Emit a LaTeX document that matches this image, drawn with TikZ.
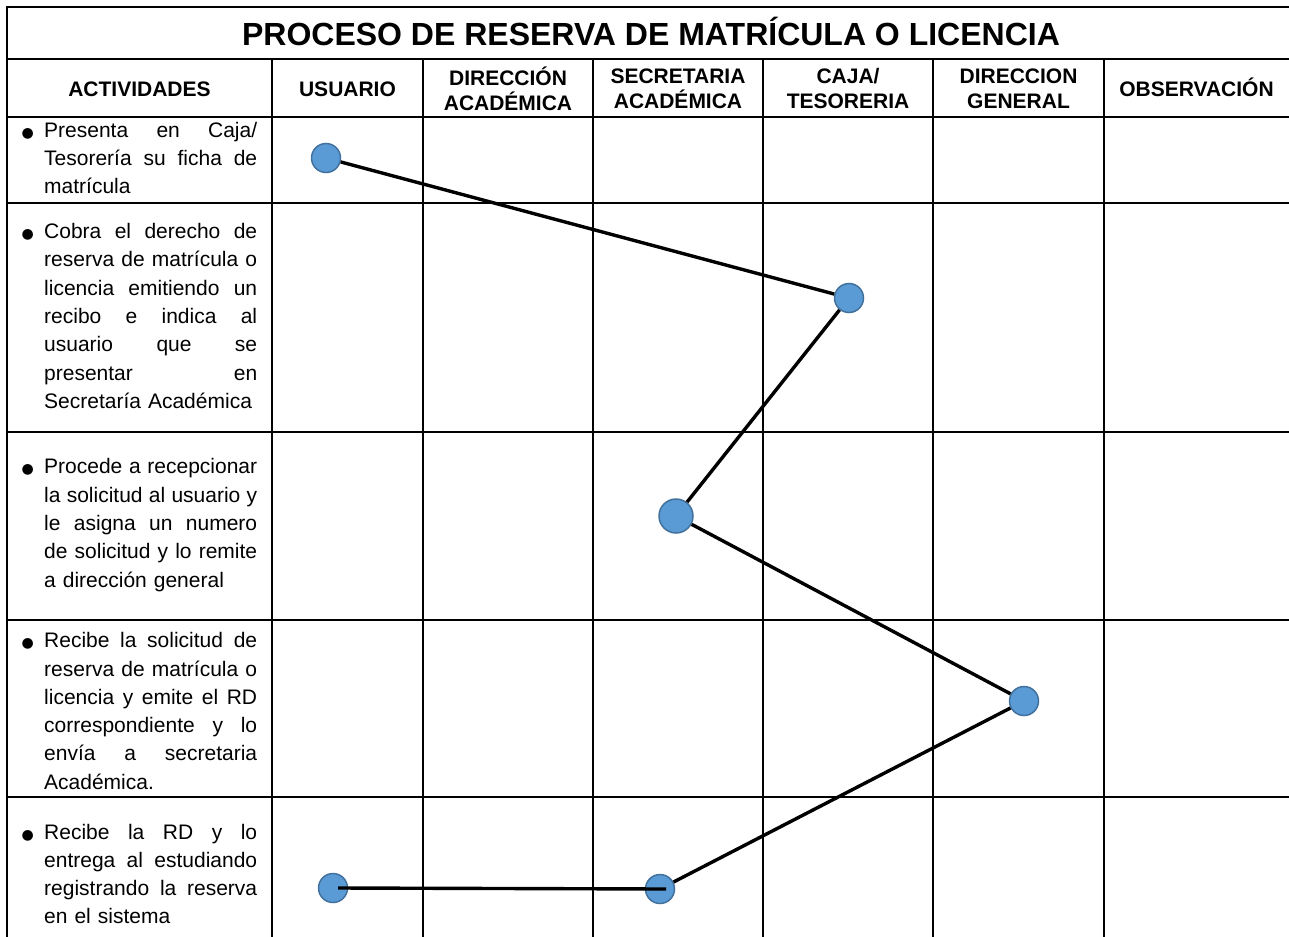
\documentclass[tikz,border=0pt]{standalone}
\usepackage{fontspec}
\setmainfont{Liberation Sans}
\newfontfamily\symfont{DejaVu Sans}
\definecolor{dotfill}{HTML}{5B9BD5}
\definecolor{dotline}{HTML}{41719C}
% one justified line of an activity
\newcommand{\jl}[1]{\leavevmode\hbox to 213pt{\spaceskip=0.278em plus 1fill\relax #1}}
\newcommand{\bul}{\leavevmode\llap{\makebox[0pt][c]{\symfont\fontsize{14}{14}\selectfont ●}\hspace{16.5pt}}}

\begin{document}
\begin{tikzpicture}[x=1pt,y=-1pt,
    grid/.style={line width=2.6pt},
    title/.style={font=\fontsize{32}{36}\selectfont\bfseries,anchor=base},
    head/.style={font=\fontsize{21}{25}\selectfont\bfseries,align=center},
    act/.style={anchor=west,text width=213pt,inner sep=0pt,align=left,
                font=\fontsize{21}{28.3}\selectfont},
    dot/.style={circle,fill=dotfill,draw=dotline,line width=1.5pt,
                minimum size=29pt,inner sep=0pt},
    link/.style={line width=3.4pt}]
  \useasboundingbox (0,0) rectangle (1289,936);
  % table
  \draw[grid] (1295,7) -- (7,7) -- (7,945);
  \foreach \y in {59,117,203,432,620,797}
    \draw[grid] (7,\y) -- (1295,\y);
  \foreach \x in {272,423,593,763,933,1104}
    \draw[grid] (\x,59) -- (\x,945);

  \node[title] (titulo) at (651,46) {PROCESO DE RESERVA DE MATRÍCULA O LICENCIA};

  \node[head] (hact) at (139.5,88.8) {ACTIVIDADES};
  \node[head] (husu) at (347.5,88.8) {USUARIO};
  \node[head] (hdac) at (508,88.8) {DIRECCIÓN\\ACADÉMICA};
  \node[head] (hsec) at (678,88.8) {SECRETARIA\\ACADÉMICA};
  \node[head] (hcaj) at (848,88.8) {CAJA/\\TESORERIA};
  \node[head] (hdge) at (1018.5,88.8) {DIRECCION\\GENERAL};
  \node[head] (hobs) at (1196.5,87.5) {OBSERVACIÓN};

  % activities
  \node[act] (a1) at (44,158) {\bul\jl{Presenta en Caja/}\\
    \jl{Tesorería su ficha de}\\ matrícula};
  \node[act] (a2) at (44,316) {\bul\jl{Cobra el derecho de}\\
    \jl{reserva de matrícula o}\\ \jl{licencia emitiendo un}\\
    \jl{recibo e indica al}\\ \jl{usuario que se}\\
    \jl{presentar en}\\ Secretaría Académica};
  \node[act] (a3) at (44,525) {\bul\jl{Procede a recepcionar}\\
    \jl{la solicitud al usuario y}\\ \jl{le asigna un numero}\\
    \jl{de solicitud y lo remite}\\ a dirección general};
  \node[act] (a4) at (44,711) {\bul\jl{Recibe la solicitud de}\\
    \jl{reserva de matrícula o}\\ \jl{licencia y emite el RD}\\
    \jl{correspondiente y lo}\\ \jl{envía a secretaria}\\ Académica.};
  \node[act] (a5) at (44,874) {\bul\jl{Recibe la RD y lo}\\
    \jl{entrega al estudiando}\\ \jl{registrando la reserva}\\ en el sistema};

  % flow
  \node[dot] (usr1) at (326,158) {};
  \node[dot] (caja) at (849,298) {};
  \node[dot,minimum size=34pt] (sec1) at (676,516) {};
  \node[dot] (dirg) at (1024,701) {};
  \node[dot] (usr2) at (333,888) {};
  \node[dot] (sec2) at (660,889) {};

  \draw[link] (usr1) -- (caja) -- (sec1) -- (dirg) -- (sec2);
  \draw[link] ([xshift=5pt]usr2.center) -- ([xshift=6pt]sec2.center);
\end{tikzpicture}
\end{document}
